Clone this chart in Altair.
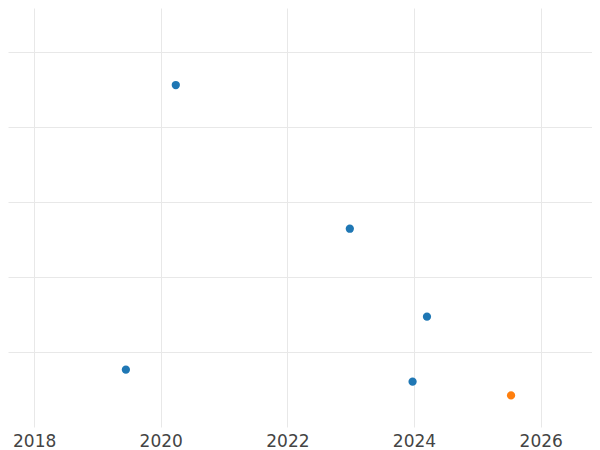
import altair as alt
import pandas as pd

dates = ["2020-03-28", "2022-12-27", "2024-03-16", "2019-06-14", "2023-12-24", "2025-07-14"]
values = [4.56, 2.644, 1.471, 0.764, 0.604, 0.421]
groups = ["A", "A", "A", "A", "A", "B"]
colors = ["#1f77b4", "#ff7f0e"]
x_domain = ["2017-08-03", "2026-10-24"]
y_ticks = [1, 2, 3, 4, 5]
y_domain = [0, 5.587]

df = pd.DataFrame({"date": dates, "value": values, "group": groups})

chart = alt.Chart(df).mark_circle(size=68, opacity=1).encode(
    x=alt.X("date:T", scale=alt.Scale(domain=x_domain, nice=False),
            axis=alt.Axis(title=None, format="%Y", tickCount={"interval": "year", "step": 2},
                          ticks=False, domain=False, labelPadding=6, labelFontSize=17,
                          labelFont="DejaVu Sans", labelColor="#444444",
                          gridColor="#e8e8e8", gridWidth=1)),
    y=alt.Y("value:Q", scale=alt.Scale(domain=y_domain, nice=False, zero=False),
            axis=alt.Axis(title=None, values=y_ticks, labels=False, ticks=False, domain=False,
                          gridColor="#e8e8e8", gridWidth=1)),
    color=alt.Color("group:N", scale=alt.Scale(domain=["A", "B"], range=colors), legend=None),
).properties(width=584, height=419, padding=0).configure_view(stroke=None)

chart.save("out.html", embed_options={"renderer": "svg", "actions": False})
